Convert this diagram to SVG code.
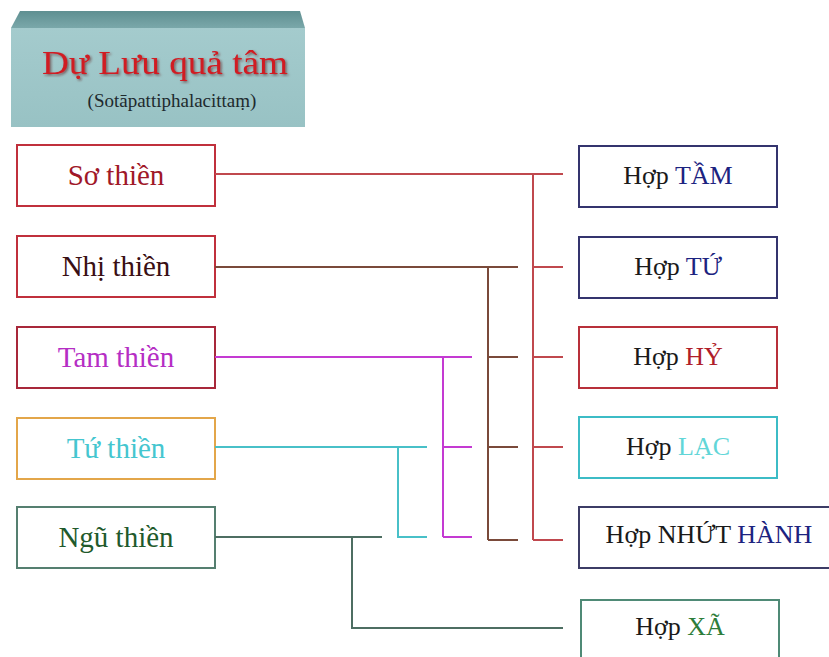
<svg xmlns="http://www.w3.org/2000/svg" width="829" height="657" viewBox="0 0 829 657">
  <defs>
    <linearGradient id="topFace" x1="0" y1="0" x2="0" y2="1">
      <stop offset="0" stop-color="#5f8f91"/>
      <stop offset="1" stop-color="#7aa8aa"/>
    </linearGradient>
    <linearGradient id="frontFace" x1="0" y1="0" x2="0" y2="1">
      <stop offset="0" stop-color="#a4cbcd"/>
      <stop offset="1" stop-color="#98c2c4"/>
    </linearGradient>
    <filter id="titleShadow" x="-10%" y="-30%" width="120%" height="160%">
      <feDropShadow dx="1.5" dy="1.5" stdDeviation="1" flood-color="#5a2020" flood-opacity="0.6"/>
    </filter>
  </defs>
  <style>
    text { font-family: "Liberation Serif", "Times New Roman", serif; }
    .box { fill: #ffffff; stroke-width: 2; }
    .lbl { font-size: 29px; text-anchor: middle; }
    .res { font-size: 26px; text-anchor: middle; fill: #1a1a1a; }
    .ln { fill: none; stroke-width: 2; }
  </style>

  <rect width="829" height="657" fill="#ffffff"/>

  <!-- title block -->
  <g id="title">
    <polygon points="20,11 300,11 305,28 11,28" fill="url(#topFace)"/>
    <rect x="11" y="28" width="294" height="99" fill="url(#frontFace)"/>
    <text x="165" y="74" font-size="33" fill="#d01c24" text-anchor="middle" textLength="246" lengthAdjust="spacingAndGlyphs" filter="url(#titleShadow)">Dự Lưu quả tâm</text>
    <text x="172" y="107" font-size="19" fill="#1e2a2e" text-anchor="middle">(Sotāpattiphalacittaṃ)</text>
  </g>

  <!-- jhāna nodes -->
  <g id="so-thien">
    <rect class="box" x="17" y="145" width="198" height="61" stroke="#c0303c"/>
    <text class="lbl" x="116" y="185" fill="#a01828">Sơ thiền</text>
  </g>
  <g id="nhi-thien">
    <rect class="box" x="17" y="236" width="198" height="61" stroke="#c0303c"/>
    <text class="lbl" x="116" y="276" fill="#3a0f14">Nhị thiền</text>
  </g>
  <g id="tam-thien">
    <rect class="box" x="17" y="327" width="198" height="61" stroke="#a8283a"/>
    <text class="lbl" x="116" y="367" fill="#b52ec4">Tam thiền</text>
  </g>
  <g id="tu-thien">
    <rect class="box" x="17" y="418" width="198" height="61" stroke="#e3a64a"/>
    <text class="lbl" x="116" y="458" fill="#45c6cf">Tứ thiền</text>
  </g>
  <g id="ngu-thien">
    <rect class="box" x="17" y="507" width="198" height="61" stroke="#557f70"/>
    <text class="lbl" x="116" y="547" fill="#1f5a2c">Ngũ thiền</text>
  </g>

  <!-- factor nodes -->
  <g id="hop-tam">
    <rect class="box" x="579" y="146" width="198" height="61" stroke="#34346e"/>
    <text class="res" x="678" y="184">Hợp <tspan fill="#1c2380">TẦM</tspan></text>
  </g>
  <g id="hop-tu">
    <rect class="box" x="579" y="237" width="198" height="61" stroke="#34346e"/>
    <text class="res" x="678" y="275">Hợp <tspan fill="#1c2380">TỨ</tspan></text>
  </g>
  <g id="hop-hy">
    <rect class="box" x="579" y="327" width="198" height="61" stroke="#b8303a"/>
    <text class="res" x="678" y="365">Hợp <tspan fill="#b01e2a">HỶ</tspan></text>
  </g>
  <g id="hop-lac">
    <rect class="box" x="579" y="417" width="198" height="61" stroke="#3cbcc6"/>
    <text class="res" x="678" y="455">Hợp <tspan fill="#62d6d8">LẠC</tspan></text>
  </g>
  <g id="hop-nhut-hanh">
    <rect class="box" x="579" y="507" width="262" height="61" stroke="#3c3c66"/>
    <text class="res" x="709" y="543">Hợp NHỨT <tspan fill="#1c2380">HÀNH</tspan></text>
  </g>
  <g id="hop-xa">
    <rect class="box" x="581" y="600" width="198" height="62" stroke="#4f8a76"/>
    <text class="res" x="680" y="635">Hợp <tspan fill="#2e7d3a">XÃ</tspan></text>
  </g>

  <!-- connectors -->
  <g id="connectors">
    <!-- Sơ thiền: tầm, tứ, hỷ, lạc, nhứt hành -->
    <path class="ln" stroke="#c0484e" d="M215,174 H563 M533,174 V540 M533,267 H563 M533,357 H563 M533,447 H563 M533,540 H563"/>
    <!-- Nhị thiền: hỷ, lạc, nhứt hành -->
    <path class="ln" stroke="#7a4a3a" d="M215,267 H518 M488,267 V540 M488,357 H518 M488,447 H518 M488,540 H518"/>
    <!-- Tam thiền: lạc, nhứt hành -->
    <path class="ln" stroke="#c43ad2" d="M215,357 H472 M443,357 V537 M443,447 H472 M443,537 H472"/>
    <!-- Tứ thiền: nhứt hành -->
    <path class="ln" stroke="#48c0c8" d="M215,447 H427 M398,447 V537 H427"/>
    <!-- Ngũ thiền: nhứt hành, xả -->
    <path class="ln" stroke="#4d6e62" d="M215,537 H382 M352,537 V628 H563"/>
  </g>
</svg>
